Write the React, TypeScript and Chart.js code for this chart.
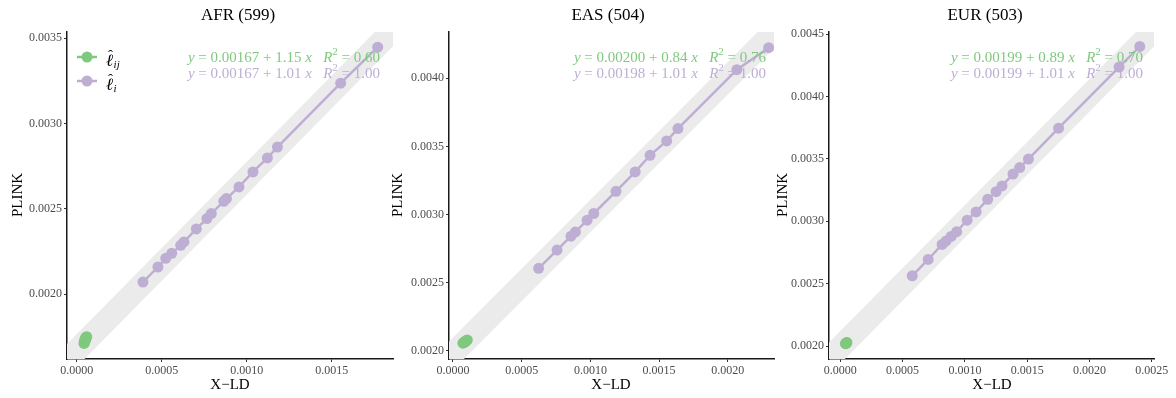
import React, { useEffect, useRef } from 'react';
import { Chart, registerables } from 'chart.js';
Chart.register(...registerables);

const W = 1176;
const H = 398;
const SERIF = "'Liberation Serif', 'DejaVu Serif', 'Times New Roman', serif";
const GREEN = '#7FC97F';
const PURPLE = '#BEAED4';
const BAND = '#EBEBEB';

// ---------- data ----------
const panelTitles = ['AFR (599)', 'EAS (504)', 'EUR (503)'];
const xAxisTitle = 'X\u2212LD';
const yAxisTitle = 'PLINK';

const afrPurpleX = [0.000390, 0.000478, 0.000524, 0.000559, 0.000612, 0.000631, 0.000704, 0.000766, 0.000792, 0.000865, 0.000881, 0.000955, 0.001037, 0.001122, 0.001181, 0.001553, 0.001771];
const afrPurpleY = [0.002072, 0.002160, 0.002211, 0.002240, 0.002287, 0.002307, 0.002383, 0.002444, 0.002473, 0.002545, 0.002561, 0.002629, 0.002717, 0.002799, 0.002863, 0.003237, 0.003448];
const afrGreenX = [0.000043, 0.000047, 0.000045, 0.000052, 0.000050, 0.000056, 0.000059, 0.000054];
const afrGreenY = [0.001712, 0.001719, 0.001726, 0.001731, 0.001738, 0.001744, 0.001752, 0.001748];

const easPurpleX = [0.000623, 0.000757, 0.000859, 0.000891, 0.000976, 0.001024, 0.001186, 0.001326, 0.001434, 0.001555, 0.001637, 0.002066, 0.002297];
const easPurpleY = [0.002606, 0.002740, 0.002842, 0.002873, 0.002959, 0.003008, 0.003171, 0.003313, 0.003435, 0.003540, 0.003631, 0.004063, 0.004224];
const easGreenX = [0.000072, 0.000080, 0.000086, 0.000093, 0.000099, 0.000104, 0.000090];
const easGreenY = [0.002057, 0.002063, 0.002068, 0.002072, 0.002077, 0.002081, 0.002066];

const eurPurpleX = [0.000577, 0.000705, 0.000817, 0.000849, 0.000889, 0.000934, 0.001018, 0.001090, 0.001183, 0.001250, 0.001298, 0.001386, 0.001440, 0.001510, 0.001752, 0.002238, 0.002404];
const eurPurpleY = [0.002563, 0.002694, 0.002815, 0.002843, 0.002879, 0.002917, 0.003009, 0.003075, 0.003176, 0.003238, 0.003284, 0.003379, 0.003431, 0.003499, 0.003747, 0.004237, 0.004402];
const eurGreenX = [0.000041, 0.000045, 0.000049, 0.000053, 0.000047];
const eurGreenY = [0.002019, 0.002022, 0.002026, 0.002029, 0.002024];

const purpleXs = [afrPurpleX, easPurpleX, eurPurpleX];
const purpleYs = [afrPurpleY, easPurpleY, eurPurpleY];
const greenXs = [afrGreenX, easGreenX, eurGreenX];
const greenYs = [afrGreenY, easGreenY, eurGreenY];

const greenIntercept = [0.00167, 0.00200, 0.00199];
const greenSlope = [1.15, 0.84, 0.89];
const greenR2 = [0.60, 0.76, 0.70];
const purpleIntercept = [0.00167, 0.00198, 0.00199];
const purpleSlope = [1.01, 1.01, 1.01];
const purpleR2 = [1.00, 1.00, 1.00];

const xTickValues = [
  [0, 0.0005, 0.001, 0.0015],
  [0, 0.0005, 0.001, 0.0015, 0.002],
  [0, 0.0005, 0.001, 0.0015, 0.002, 0.0025],
];
const yTickValues = [
  [0.002, 0.0025, 0.003, 0.0035],
  [0.002, 0.0025, 0.003, 0.0035, 0.004],
  [0.002, 0.0025, 0.003, 0.0035, 0.004, 0.0045],
];
const xMin = [-0.000057, -0.000029, -0.000091];
const xMax = [0.001861, 0.002336, 0.002518];
const yMin = [0.001621, 0.001941, 0.001896];
const yMax = [0.003537, 0.004339, 0.004518];

const legendSubscripts = ['ij', 'i'];

// ---------- layout ----------
const plotLeft = [67, 449, 829];
const plotRight = [393, 774, 1154];
const PLOT_TOP = 32;
const PLOT_BOTTOM = 359;
const Y_AXIS_W = 45;
const titleX = [238, 608, 985];
const xTitleX = [230, 611, 992];
const yTitleX = [18, 398, 783];
const eqRight = [380, 766, 1143];

type Run = { t: string; it?: boolean; sup?: boolean };

function drawRuns(ctx: CanvasRenderingContext2D, runs: Run[], xRight: number, yMid: number, color: string, size: number) {
  const fontFor = (r: Run) => `${r.it ? 'italic ' : ''}${r.sup ? Math.round(size * 0.7) : size}px ${SERIF}`;
  let total = 0;
  for (const r of runs) {
    ctx.font = fontFor(r);
    total += ctx.measureText(r.t).width;
  }
  let x = xRight - total;
  ctx.fillStyle = color;
  ctx.textBaseline = 'middle';
  ctx.textAlign = 'left';
  for (const r of runs) {
    ctx.font = fontFor(r);
    ctx.fillText(r.t, x, r.sup ? yMid - size * 0.38 : yMid);
    x += ctx.measureText(r.t).width;
  }
}

function eqRuns(a: number, b: number, r2: number): Run[] {
  return [
    { t: 'y', it: true },
    { t: ` = ${a.toFixed(5)} + ${b.toFixed(2)} ` },
    { t: 'x', it: true },
    { t: '   ' },
    { t: 'R', it: true },
    { t: '2', sup: true },
    { t: ` = ${r2.toFixed(2)}` },
  ];
}

function buildConfig(i: number): any {
  const purple = purpleXs[i].map((x, k) => ({ x, y: purpleYs[i][k] }));
  const green = greenXs[i].map((x, k) => ({ x, y: greenYs[i][k] }));
  const band = [xMin[i] - 0.001, xMax[i] + 0.001].map((x) => ({ x, y: purpleIntercept[i] + purpleSlope[i] * x }));

  const tickFont = { family: SERIF, size: 12 };
  const annot = {
    id: 'annot' + i,
    afterDraw(chart: any) {
      const ctx: CanvasRenderingContext2D = chart.ctx;
      ctx.save();
      // title
      ctx.fillStyle = '#000';
      ctx.font = `17px ${SERIF}`;
      ctx.textAlign = 'center';
      ctx.textBaseline = 'middle';
      ctx.fillText(panelTitles[i], titleX[i], 16);
      // axis titles
      ctx.font = `15px ${SERIF}`;
      ctx.fillText(xAxisTitle, xTitleX[i], 385);
      ctx.save();
      ctx.translate(yTitleX[i], 195);
      ctx.rotate(-Math.PI / 2);
      ctx.fillText(yAxisTitle, 0, 0);
      ctx.restore();
      // equations
      drawRuns(ctx, eqRuns(greenIntercept[i], greenSlope[i], greenR2[i]), eqRight[i], 58, GREEN, 15);
      drawRuns(ctx, eqRuns(purpleIntercept[i], purpleSlope[i], purpleR2[i]), eqRight[i], 74, PURPLE, 15);
      // legend (first panel only)
      if (i === 0) {
        const colors = [GREEN, PURPLE];
        const ys = [57, 81];
        for (let k = 0; k < 2; k++) {
          const cy = ys[k];
          ctx.strokeStyle = colors[k];
          ctx.fillStyle = colors[k];
          ctx.lineWidth = 2.5;
          ctx.beginPath();
          ctx.moveTo(77, cy);
          ctx.lineTo(97, cy);
          ctx.stroke();
          ctx.beginPath();
          ctx.arc(87, cy, 5.5, 0, Math.PI * 2);
          ctx.fill();
          ctx.fillStyle = '#000';
          ctx.textAlign = 'left';
          ctx.textBaseline = 'alphabetic';
          ctx.font = `italic 17px ${SERIF}`;
          const base = cy + 9;
          ctx.fillText('\u2113', 106, base);
          const lw = ctx.measureText('\u2113').width;
          ctx.font = `15px ${SERIF}`;
          ctx.textAlign = 'center';
          ctx.fillText('\u02C6', 106 + lw / 2 + 1, base - 6);
          ctx.textAlign = 'left';
          ctx.font = `italic 11px ${SERIF}`;
          ctx.fillText(legendSubscripts[k], 106 + lw + 0.5, base + 2);
        }
      }
      ctx.restore();
    },
  };

  return {
    type: 'scatter',
    data: {
      datasets: [
        {
          data: purple,
          showLine: true,
          borderColor: PURPLE,
          backgroundColor: PURPLE,
          borderWidth: 2.5,
          pointRadius: 5.5,
          pointBorderWidth: 0,
          pointBackgroundColor: PURPLE,
          tension: 0,
        },
        {
          data: green,
          showLine: true,
          borderColor: GREEN,
          backgroundColor: GREEN,
          borderWidth: 2.5,
          pointRadius: 5.5,
          pointBorderWidth: 0,
          pointBackgroundColor: GREEN,
          tension: 0,
        },
        {
          data: band,
          showLine: true,
          borderColor: BAND,
          borderWidth: 23,
          borderCapStyle: 'butt',
          pointRadius: 0,
          clip: 0,
        },
      ],
    },
    options: {
      animation: false,
      responsive: false,
      devicePixelRatio: 1,
      events: [],
      layout: {
        padding: {
          left: plotLeft[i] - Y_AXIS_W,
          right: W - plotRight[i],
          top: PLOT_TOP,
          bottom: 0,
        },
      },
      plugins: { legend: { display: false }, tooltip: { enabled: false }, title: { display: false } },
      scales: {
        x: {
          type: 'linear',
          min: xMin[i],
          max: xMax[i],
          afterBuildTicks: (scale: any) => {
            scale.ticks = xTickValues[i].map((v) => ({ value: v }));
          },
          afterFit: (scale: any) => {
            scale.height = H - PLOT_BOTTOM;
          },
          ticks: {
            callback: (v: any) => Number(v).toFixed(4),
            font: tickFont,
            color: '#4D4D4D',
            padding: 2,
            maxRotation: 0,
            autoSkip: false,
          },
          grid: { display: true, drawOnChartArea: false, drawTicks: true, tickLength: 3, color: '#333333', lineWidth: 1 },
          border: { display: true, color: '#1a1a1a', width: 1.5 },
        },
        y: {
          type: 'linear',
          min: yMin[i],
          max: yMax[i],
          afterBuildTicks: (scale: any) => {
            scale.ticks = yTickValues[i].map((v) => ({ value: v }));
          },
          afterFit: (scale: any) => {
            scale.width = Y_AXIS_W;
          },
          ticks: {
            callback: (v: any) => Number(v).toFixed(4),
            font: tickFont,
            color: '#4D4D4D',
            padding: 2,
            autoSkip: false,
          },
          grid: { display: true, drawOnChartArea: false, drawTicks: true, tickLength: 3, color: '#333333', lineWidth: 1 },
          border: { display: true, color: '#1a1a1a', width: 1.5 },
        },
      },
    },
    plugins: [annot],
  };
}

export default function App() {
  const r0 = useRef<HTMLCanvasElement | null>(null);
  const r1 = useRef<HTMLCanvasElement | null>(null);
  const r2 = useRef<HTMLCanvasElement | null>(null);
  const refs = [r0, r1, r2];

  useEffect(() => {
    const charts = refs.map((r, i) => new Chart(r.current as HTMLCanvasElement, buildConfig(i)));
    return () => charts.forEach((c) => c.destroy());
  }, []);

  return (
    <div style={{ position: 'absolute', left: 0, top: 0, width: W, height: H, background: '#fff' }}>
      {refs.map((r, i) => (
        <canvas key={i} ref={r} width={W} height={H} style={{ position: 'absolute', left: 0, top: 0, width: W, height: H }} />
      ))}
    </div>
  );
}
